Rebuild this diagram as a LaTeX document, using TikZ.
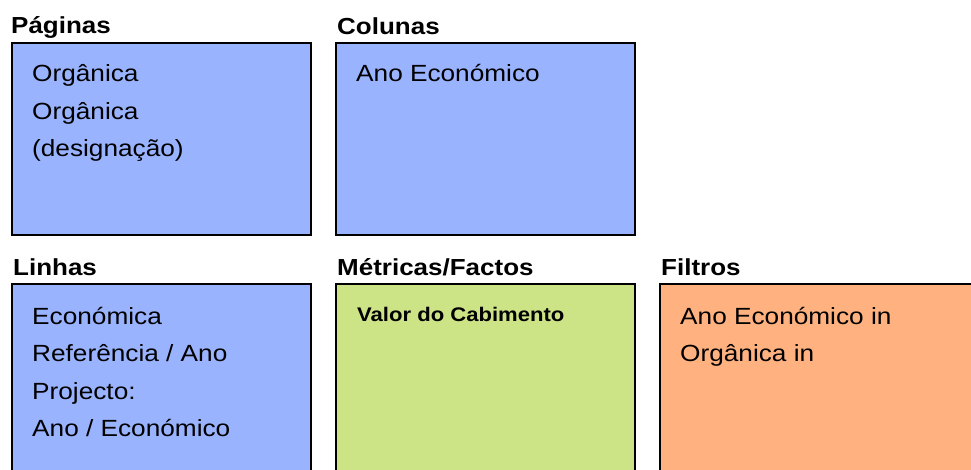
\documentclass[tikz,border=0pt]{standalone}
\usepackage{fontspec}
\setmainfont{Liberation Sans}[FakeStretch=1.12]
\definecolor{dimblue}{RGB}{153,179,255}
\definecolor{factgreen}{RGB}{204,227,134}
\definecolor{filterorange}{RGB}{255,178,128}

\begin{document}
\begin{tikzpicture}[x=1pt, y=-1pt,
  panel/.style = {rectangle, draw, line width=1.8pt, anchor=north west, inner sep=0pt, minimum width=299pt, minimum height=192pt},
  title/.style = {anchor=base west, inner sep=0pt, font=\fontsize{23.2}{25}\selectfont\bfseries},
  items/.style = {anchor=base west, inner sep=0pt, align=left, font=\fontsize{23.4}{37.5}\selectfont}
]

\useasboundingbox (0,0) rectangle (971,470);
\clip (0,0) rectangle (971,470);

% Top row: pages and columns
% (items are placed by the baseline of their last line)
\node[title] at (11,34) (pagtitle) {Páginas};
\node[panel, fill=dimblue] at (11,42) (paginas) {};
\node[items] at (32,157) (pagitems) {Orgânica\\Orgânica\\(designação)};

\node[title] at (337,35) (coltitle) {Colunas};
\node[panel, fill=dimblue] at (335,42) (colunas) {};
\node[items] at (356,82) (colitems) {Ano Económico};

% Bottom row: lines, facts and filters (cut by the page edge)
\node[title] at (13,276) (lintitle) {Linhas};
\node[panel, fill=dimblue, minimum height=200pt] at (11,283) (linhas) {};
\node[items] at (32,436.5) (linitems) {Económica\\Referência / Ano\\Projecto:\\Ano / Económico};

\node[title] at (337,276) (mettitle) {Métricas/Factos};
\node[panel, fill=factgreen, minimum height=200pt] at (335,283) (metricas) {};
\node[items, font=\fontsize{19.7}{22}\selectfont\bfseries] at (357,321) (metitems) {Valor do Cabimento};

\node[title] at (661,276) (filtitle) {Filtros};
\node[panel, fill=filterorange, minimum height=200pt, minimum width=330pt] at (659,283) (filtros) {};
\node[items] at (680,361.5) (filitems) {Ano Económico in\\Orgânica in};

\end{tikzpicture}
\end{document}
